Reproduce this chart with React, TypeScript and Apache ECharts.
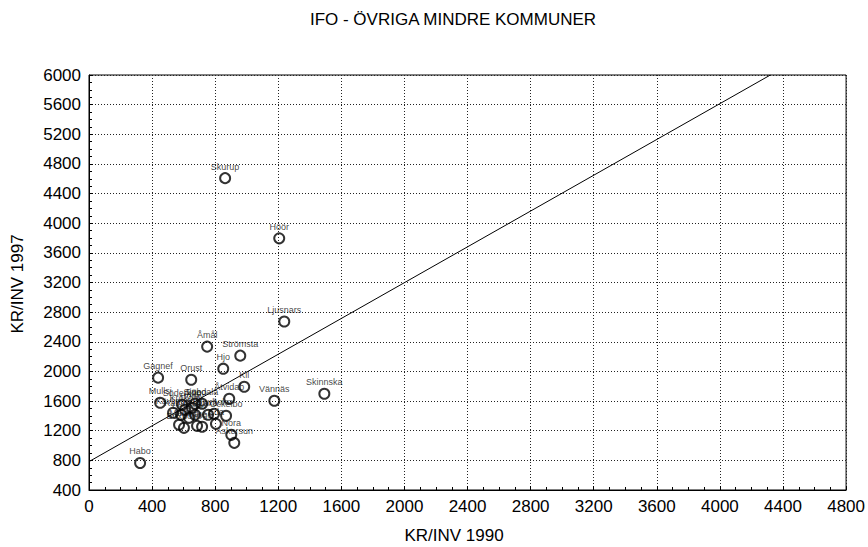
import React, { useEffect, useRef } from "react";
import * as echarts from "echarts";

const titleText = "IFO - ÖVRIGA MINDRE KOMMUNER";
const xName = "KR/INV 1990";
const yName = "KR/INV 1997";

const names = [
  "Skurup", "Höör", "Ljusnars", "Åmål", "Strömsta", "Hjo", "Gagnef", "Orust",
  "Kil", "Åtvidab", "Vännäs", "Skinnska", "Habo", "Mullsj", "Nora", "Askersun",
  "Söderköp", "Sjöbo", "Svedala", "Kävlinge", "Katrineh", "Hörby", "Krokom",
  "Tierp", "Laxå", "Bjurholm", "Ockelbo", "Lessebo", "Malå", "Boxholm", "Ydre",
  "Ånge", "Eda",
];
const xVals = [
  863, 1206, 1238, 749, 959, 851, 438, 648,
  984, 889, 1175, 1492, 324, 451, 902, 921,
  590, 672, 717, 533, 584, 653, 609,
  672, 755, 793, 869, 634, 571, 602, 685,
  717, 805,
];
const yVals = [
  4608, 3796, 2673, 2335, 2213, 2037, 1916, 1888,
  1794, 1631, 1604, 1699, 765, 1577, 1144, 1036,
  1550, 1564, 1564, 1442, 1415, 1510, 1483,
  1415, 1415, 1428, 1401, 1374, 1280, 1239, 1266,
  1253, 1293,
];
// regression line end points (x, y)
const fitX = [0, 4320];
const fitY = [783, 6000];

const FONT = "'Liberation Sans', Arial, sans-serif";

export default function App() {
  const ref = useRef<HTMLDivElement>(null);
  useEffect(() => {
    if (!ref.current) return;
    const chart = echarts.init(ref.current, null, { renderer: "svg" });
    const pts = names.map((n, i) => ({ name: n, value: [xVals[i], yVals[i]] }));
    const axisCommon = {
      axisLine: { show: true, lineStyle: { color: "#000", width: 1 } },
      axisTick: { show: true, inside: true, length: 4, lineStyle: { color: "#000" } },
      minorTick: { show: true, splitNumber: 4, length: 3, lineStyle: { color: "#000" } },
      splitLine: { show: true, lineStyle: { color: "#222", type: [1, 2], width: 1 } },
      axisLabel: {
        color: "#000", fontSize: 17, fontFamily: FONT, margin: 8,
        formatter: (v: number) => String(v),
      },
    };
    chart.setOption({
      animation: false,
      backgroundColor: "#fff",
      grid: {
        left: 89, right: 21, top: 75, bottom: 57,
        show: true, borderColor: "#000", borderWidth: 1, backgroundColor: "transparent",
      },
      xAxis: {
        type: "value", min: 0, max: 4800, interval: 400,
        ...axisCommon,
      },
      yAxis: {
        type: "value", min: 400, max: 6000, interval: 400,
        ...axisCommon,
      },
      graphic: [
        {
          type: "text", x: 453, y: 19,
          style: { text: titleText, fill: "#000", font: `17px ${FONT}`, align: "center", verticalAlign: "middle" },
        },
        {
          type: "text", x: 454, y: 535,
          style: { text: xName, fill: "#000", font: `17px ${FONT}`, align: "center", verticalAlign: "middle" },
        },
        {
          type: "text", x: 17, y: 284, rotation: Math.PI / 2,
          style: { text: yName, fill: "#000", font: `17px ${FONT}`, align: "center", verticalAlign: "middle" },
        },
      ],
      series: [
        {
          type: "line",
          data: fitX.map((x, i) => [x, fitY[i]]),
          symbol: "none",
          lineStyle: { color: "#000", width: 1 },
          silent: true,
          z: 2,
        },
        {
          type: "scatter",
          data: pts,
          symbol: "circle",
          symbolSize: 10,
          itemStyle: { color: "rgba(0,0,0,0)", borderColor: "#000", borderWidth: 2 },
          label: {
            show: true,
            position: "top",
            distance: 1,
            formatter: "{b}",
            color: "#111",
            fontSize: 9,
            fontFamily: FONT,
          },
          labelLayout: { hideOverlap: false },
          z: 3,
        },
      ],
    });
    return () => chart.dispose();
  }, []);
  return (
    <div
      ref={ref}
      style={{ position: "fixed", left: 0, top: 0, width: 868, height: 547 }}
    />
  );
}
